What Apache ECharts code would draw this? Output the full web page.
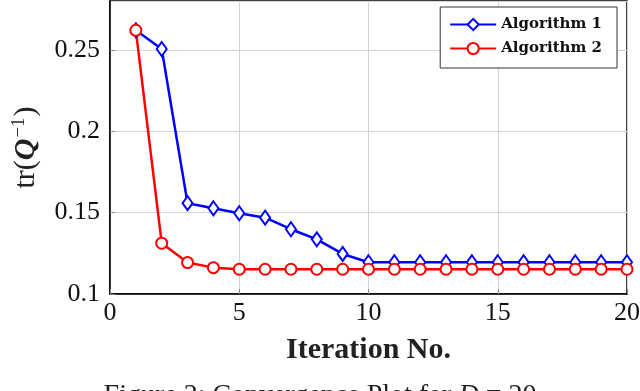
<!DOCTYPE html>
<html>
<head>
<meta charset="utf-8">
<script src="https://cdn.jsdelivr.net/npm/echarts@6/dist/echarts.min.js"></script>
<style>
  html, body { margin: 0; padding: 0; background: #fff; }
  #chart { width: 640px; height: 391px; }
</style>
</head>
<body>
<div id="chart"></div>
<script>
// iterations and the two convergence curves
var iterations = [1, 2, 3, 4, 5, 6, 7, 8, 9, 10, 11, 12, 13, 14, 15, 16, 17, 18, 19, 20];
var algo1 = [0.262, 0.2505, 0.1558, 0.1527, 0.1496, 0.1469, 0.1398, 0.1336, 0.1246, 0.1195,
             0.1195, 0.1195, 0.1195, 0.1195, 0.1195, 0.1195, 0.1195, 0.1195, 0.1195, 0.1195];
var algo2 = [0.262, 0.1312, 0.1193, 0.1162, 0.1152, 0.1152, 0.1152, 0.1152, 0.1152, 0.1152,
             0.1152, 0.1152, 0.1152, 0.1152, 0.1152, 0.1152, 0.1152, 0.1152, 0.1152, 0.1152];
var seriesNames = ['Algorithm 1', 'Algorithm 2'];
var xTicks = [0, 5, 10, 15, 20];
var yTicks = [0.1, 0.15, 0.2, 0.25];

function pairs(vals) {
  var out = [];
  for (var i = 0; i < iterations.length; i++) out.push([iterations[i], vals[i]]);
  return out;
}

var serif = '"Liberation Serif", "DejaVu Serif", serif';
var chart = echarts.init(document.getElementById('chart'));

var option = {
  animation: false,
  backgroundColor: '#fff',
  grid: {
    left: 110, right: 13, top: 1, bottom: 97,
    outerBoundsMode: 'none',
    show: true, borderColor: '#000', borderWidth: 1.5
  },
  legend: {
    right: 23, top: 7,
    orient: 'vertical',
    backgroundColor: '#fff',
    borderColor: '#333', borderWidth: 1,
    padding: [10, 15, 12, 9],
    itemGap: 9,
    itemWidth: 46, itemHeight: 14,
    textStyle: { fontFamily: '"DejaVu Serif", serif', fontWeight: 'bold', fontSize: 15, color: '#111' },
    data: seriesNames
  },
  xAxis: {
    type: 'value',
    min: xTicks[0], max: xTicks[xTicks.length - 1], interval: 5,
    name: 'Iteration No.',
    nameLocation: 'middle', nameGap: 41,
    nameTextStyle: { fontFamily: serif, fontWeight: 'bold', fontSize: 30, color: '#222' },
    axisLine: { show: true, lineStyle: { color: '#000', width: 1.5 } },
    axisTick: { show: true, inside: true, length: 5, lineStyle: { color: '#888' } },
    axisLabel: { fontFamily: serif, fontSize: 26, color: '#111', margin: 6 },
    splitLine: { show: true, lineStyle: { color: '#d3d3d3', width: 1 } }
  },
  yAxis: {
    type: 'value',
    min: yTicks[0], max: 0.28, interval: 0.05,
    name: '{n|tr(}{q|Q}{s|−1}{n|)}',
    nameLocation: 'middle', nameGap: 68, nameRotate: 90,
    nameTextStyle: {
      color: '#222',
      rich: {
        n: { fontFamily: serif, fontSize: 30, color: '#222' },
        q: { fontFamily: serif, fontSize: 30, fontStyle: 'italic', fontWeight: 'bold', color: '#222' },
        s: { fontFamily: serif, fontSize: 19, color: '#222', padding: [0, 1, 13, 1] }
      }
    },
    axisLine: { show: true, lineStyle: { color: '#000', width: 1.5 } },
    axisTick: { show: true, inside: true, length: 5, lineStyle: { color: '#888' } },
    axisLabel: {
      fontFamily: serif, fontSize: 26, color: '#111', margin: 10,
      showMaxLabel: false,
      formatter: function (v) { return yTicks.indexOf(+v.toFixed(2)) >= 0 ? String(+v.toFixed(2)) : ''; }
    },
    splitLine: { show: true, lineStyle: { color: '#d3d3d3', width: 1 } }
  },
  series: [
    {
      name: seriesNames[0],
      type: 'line',
      data: pairs(algo1),
      symbol: 'emptyDiamond',
      symbolSize: [10, 14],
      itemStyle: { color: '#0000ff', borderWidth: 2 },
      lineStyle: { color: '#0000ff', width: 2.5 }
    },
    {
      name: seriesNames[1],
      type: 'line',
      data: pairs(algo2),
      symbol: 'emptyCircle',
      symbolSize: 11,
      itemStyle: { color: '#ff0000', borderWidth: 2.5 },
      lineStyle: { color: '#ff0000', width: 2.5 }
    }
  ],
  graphic: [
    {
      type: 'text',
      left: 'center', top: 382,
      style: {
        text: '{n|Figure 2: Convergence Plot for }{i|D}{n| = 20}',
        rich: {
          n: { fontFamily: serif, fontSize: 28, fill: '#222' },
          i: { fontFamily: serif, fontSize: 28, fontStyle: 'italic', fill: '#222' }
        }
      }
    }
  ]
};

chart.setOption(option);
</script>
</body>
</html>
